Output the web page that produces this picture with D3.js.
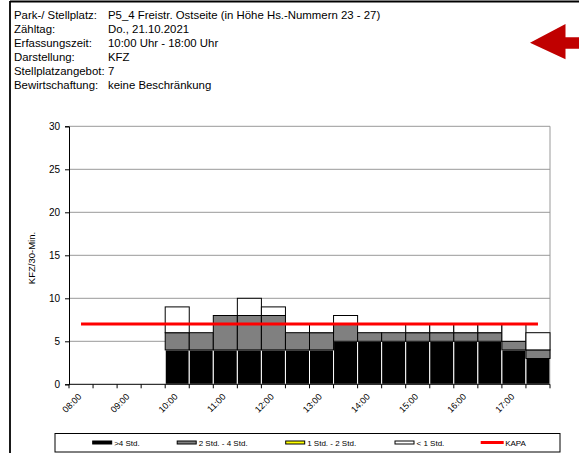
<!DOCTYPE html>
<html><head><meta charset="utf-8">
<script src="https://cdn.jsdelivr.net/npm/d3@7"></script>
<style>
body{margin:0;background:#fff;}
svg{display:block;font-family:"Liberation Sans",Arial,sans-serif;}
</style></head>
<body><svg id="c" width="579" height="453"></svg>
<script>
const slots = ["08:00","08:30","09:00","09:30","10:00","10:30","11:00","11:30","12:00","12:30",
               "13:00","13:30","14:00","14:30","15:00","15:30","16:00","16:30","17:00","17:30"];
const over4   = [0,0,0,0,4,4,4,4,4,4,4,5,5,5,5,5,5,5,4,3];
const h2to4   = [0,0,0,0,2,2,4,4,4,2,2,2,1,1,1,1,1,1,1,1];
const h1to2   = [0,0,0,0,0,0,0,0,0,0,0,0,0,0,0,0,0,0,0,0];
const under1  = [0,0,0,0,3,0,0,2,1,0,1,1,0,0,1,1,1,1,2,2];
const kapa    = [7,7,7,7,7,7,7,7,7,7,7,7,7,7,7,7,7,7,7,7];
const yTicks  = [0,5,10,15,20,25,30];
const xLabels = ["08:00","09:00","10:00","11:00","12:00","13:00","14:00","15:00","16:00","17:00"];
const headerLabels = ["Park-/ Stellplatz:","Zähltag:","Erfassungszeit:","Darstellung:","Stellplatzangebot:","Bewirtschaftung:"];
const headerValues = ["P5_4 Freistr. Ostseite (in Höhe Hs.-Nummern 23 - 27)","Do., 21.10.2021","10:00 Uhr - 18:00 Uhr","KFZ","7","keine Beschränkung"];
const seriesNames = [">4 Std.","2 Std. - 4 Std.","1 Std. - 2 Std.","< 1 Std.","KAPA"];

const svg = d3.select("#c");

// outer frame
svg.append("line").attr("x1",10).attr("x2",10).attr("y1",1).attr("y2",453).attr("stroke","#000").attr("stroke-width",1.8);
svg.append("line").attr("x1",10).attr("x2",579).attr("y1",1.5).attr("y2",1.5).attr("stroke","#000").attr("stroke-width",1.8);

// header
const hg = svg.append("g").attr("font-size","11.4px").attr("fill","#000");
headerLabels.forEach((t,i)=>{
  hg.append("text").attr("x",14).attr("y",19+i*14.06).text(t);
  hg.append("text").attr("x",108).attr("y",19+i*14.06).text(headerValues[i]);
});

// arrow
svg.append("path").attr("d","M530,42.7 L565.5,24 L565.5,37.3 L579,37.3 L579,48.7 L565.5,48.7 L565.5,59.3 Z").attr("fill","#c00000");

// scales
const x = d3.scaleBand().domain(slots).range([69,550]).padding(0);
const y = d3.scaleLinear().domain([0,30]).range([384.3,126.3]);

// gridlines
svg.append("g").selectAll("line").data(yTicks.filter(d=>d>0)).join("line")
  .attr("x1",69).attr("x2",550).attr("y1",d=>y(d)).attr("y2",d=>y(d))
  .attr("stroke","#999").attr("stroke-width",1);
svg.append("line").attr("x1",550).attr("x2",550).attr("y1",y(30)).attr("y2",y(0)).attr("stroke","#999");

// stacked bars
const table = slots.map((s,i)=>({slot:s,a:over4[i],b:h2to4[i],c:h1to2[i],d:under1[i]}));
const stack = d3.stack().keys(["a","b","c","d"])(table);
const fills = ["#000","#808080","#ffff00","#fff"];
const strokes = ["#fff","#000","#000","#000"];
stack.forEach((layer,k)=>{
  svg.append("g").selectAll("rect").data(layer.filter(d=>d[1]-d[0]>0)).join("rect")
    .attr("x",d=>x(d.data.slot)).attr("width",x.bandwidth())
    .attr("y",d=>y(d[1])).attr("height",d=>y(d[0])-y(d[1]))
    .attr("fill",fills[k]).attr("stroke",strokes[k]).attr("stroke-width",1);
});

// KAPA line
svg.append("path").datum(kapa)
  .attr("d",d3.line().x((d,i)=>x(slots[i])+x.bandwidth()/2).y(d=>y(d)))
  .attr("fill","none").attr("stroke","#ff0000").attr("stroke-width",3);

// y axis
const ya = svg.append("g").attr("transform","translate(69,0)")
  .call(d3.axisLeft(y).tickValues(yTicks).tickSize(4).tickPadding(5));
ya.select(".domain").attr("stroke","#000");
ya.selectAll("text").attr("font-size","10px").attr("font-family","Liberation Sans, Arial, sans-serif");

// x axis
const xa = svg.append("g").attr("transform","translate(0,384.3)");
xa.append("line").attr("x1",69).attr("x2",550).attr("stroke","#000");
const bounds = slots.map(s=>x(s)).concat([550]);
xa.selectAll("line.t").data(bounds).join("line").attr("class","t")
  .attr("x1",d=>d).attr("x2",d=>d).attr("y1",0).attr("y2",4).attr("stroke","#000");
xa.selectAll("text").data(xLabels).join("text")
  .attr("transform",d=>`translate(${x(d)+x.bandwidth()/2+1},${13}) rotate(-45)`)
  .attr("text-anchor","end").attr("font-size","9px").text(d=>d);

// y title
svg.append("text").attr("transform","translate(35,258) rotate(-90)")
  .attr("text-anchor","middle").attr("font-size","9.5px").text("KFZ/30-Min.");

// legend
const lg = svg.append("g").attr("font-size","8px");
lg.append("rect").attr("x",55).attr("y",433.5).attr("width",505).attr("height",18.5).attr("fill","#fff").attr("stroke","#000");
const lx = [92.7,177.2,285.7,395,480.7];
seriesNames.forEach((n,i)=>{
  if(i<4){
    lg.append("rect").attr("x",lx[i]).attr("y",441).attr("width",19).attr("height",3)
      .attr("fill",i===0?"#000":fills[i]).attr("stroke","#000").attr("stroke-width",1);
  } else {
    lg.append("line").attr("x1",lx[i]).attr("x2",lx[i]+23).attr("y1",442.5).attr("y2",442.5)
      .attr("stroke","#ff0000").attr("stroke-width",3);
  }
  lg.append("text").attr("x",lx[i]+(i<4?21.5:24.5)).attr("y",445.5).text(n);
});
</script></body></html>
